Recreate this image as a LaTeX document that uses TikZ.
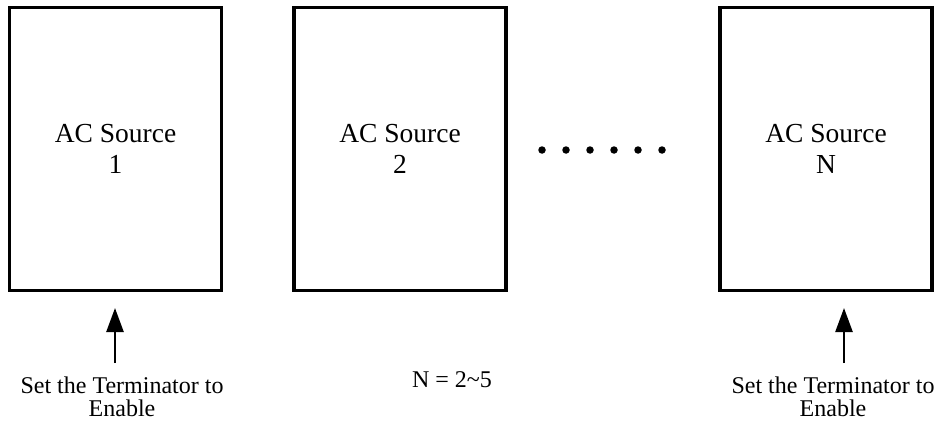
\documentclass[tikz,border=0pt]{standalone}
\usepackage{fontspec}
\setmainfont{Liberation Serif}
\usetikzlibrary{arrows.meta}
\begin{document}
\begin{tikzpicture}[x=1pt,y=-1pt,
  srcbox/.style={draw,line width=3.5pt,minimum width=212pt,minimum height=283pt,inner sep=0pt,
    align=center,font=\fontsize{27.5}{31}\selectfont},
  lbl/.style={align=center,inner sep=0pt,font=\fontsize{24}{23}\selectfont},
  uparrow/.style={line width=2.5pt,-{Triangle[length=24pt,width=17pt]}},
  dotmark/.style={circle,fill,inner sep=0pt,minimum size=7.5pt}]
\useasboundingbox (0,0) rectangle (939,423);
\node[srcbox] (s1) at (115.5,149) {AC Source\\1};
\node[srcbox] (s2) at (400,149) {AC Source\\2};
\node[srcbox] (sn) at (826,149) {AC Source\\N};
\foreach \i/\xx in {1/542,2/566,3/590,4/614,5/638,6/662}
  \node[dotmark] (d\i) at (\xx,150) {};
\coordinate (a1b) at (115,363);
\coordinate (a1t) at (115,308);
\coordinate (a2b) at (844,363);
\coordinate (a2t) at (844,308);
\draw[uparrow] (a1b) -- (a1t);
\draw[uparrow] (a2b) -- (a2t);
\node[lbl,anchor=base] (t1) at (122,416) {Set the Terminator to\\Enable};
\node[lbl,anchor=base] (t2) at (833,416) {Set the Terminator to\\Enable};
\node[lbl,anchor=base] (nn) at (452,387) {N = 2\textasciitilde5};
\end{tikzpicture}
\end{document}
